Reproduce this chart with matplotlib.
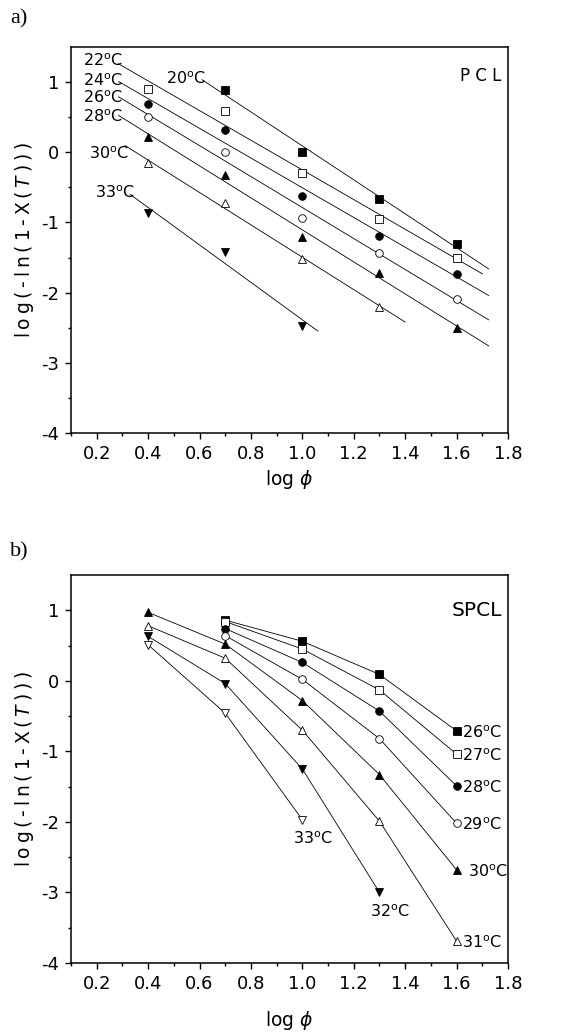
import matplotlib
matplotlib.use("Agg")
import matplotlib.pyplot as plt
import numpy as np

plt.rcParams["font.family"] = ["DejaVu Sans"]
plt.rcParams["mathtext.fontset"] = "dejavusans"

# ---------------------------------------------------------------
# Data (log phi vs log(-ln(1-X(T))))
# ---------------------------------------------------------------
log_phi = [0.4, 0.7, 1.0, 1.3, 1.6]

# a) PCL
pcl_temps = ["20", "22", "24", "26", "28", "30", "33"]
pcl_20 = [None, 0.88, 0.01, -0.67, -1.31]
pcl_22 = [0.90, 0.59, -0.30, -0.95, -1.50]
pcl_24 = [0.69, 0.32, -0.62, -1.19, -1.73]
pcl_26 = [0.50, 0.01, -0.93, -1.43, -2.09]
pcl_28 = [0.22, -0.32, -1.21, -1.72, -2.50]
pcl_30 = [-0.16, -0.72, -1.52, -2.20, None]
pcl_33 = [-0.87, -1.42, -2.47, None, None]

# b) SPCL
spcl_temps = ["26", "27", "28", "29", "30", "31", "32", "33"]
spcl_26 = [None, 0.86, 0.56, 0.09, -0.71]
spcl_27 = [None, 0.84, 0.45, -0.13, -1.04]
spcl_28 = [None, 0.74, 0.26, -0.43, -1.49]
spcl_29 = [None, 0.64, 0.02, -0.82, -2.02]
spcl_30 = [0.97, 0.52, -0.28, -1.33, -2.68]
spcl_31 = [0.78, 0.32, -0.70, -1.99, -3.69]
spcl_32 = [0.63, -0.04, -1.25, -3.00, None]
spcl_33 = [0.51, -0.46, -1.97, None, None]

# marker styles: (marker, filled)
styles = {"20": ("s", True), "22": ("s", False), "24": ("o", True),
          "26": ("o", False), "28": ("^", True), "30": ("^", False),
          "33": ("v", True)}
styles_b = {"26": ("s", True), "27": ("s", False), "28": ("o", True),
            "29": ("o", False), "30": ("^", True), "31": ("^", False),
            "32": ("v", True), "33": ("v", False)}

# fit line extents in panel a (from label to end)
fit_range = {"20": (0.61, 1.725), "22": (0.285, 1.70), "24": (0.285, 1.725),
             "26": (0.285, 1.725), "28": (0.285, 1.725), "30": (0.31, 1.40),
             "33": (0.33, 1.06)}
label_pos_a = {"20": (0.47, 1.05), "22": (0.145, 1.30), "24": (0.145, 1.02),
               "26": (0.145, 0.77), "28": (0.145, 0.51), "30": (0.17, -0.02),
               "33": (0.195, -0.58)}

TS = "\u2009"  # thin space, the original labels are letter spaced


def xy(vals):
    x = [p for p, v in zip(log_phi, vals) if v is not None]
    y = [v for v in vals if v is not None]
    return np.array(x), np.array(y)


def style_axes(ax, xpad=5):
    ax.set_xlim(0.1, 1.8)
    ax.set_ylim(-4, 1.5)
    ax.set_xticks([0.2, 0.4, 0.6, 0.8, 1.0, 1.2, 1.4, 1.6, 1.8])
    ax.set_xticklabels(["0.2", "0.4", "0.6", "0.8", "1.0", "1.2", "1.4", "1.6", "1.8"])
    ax.set_xticks(np.arange(0.1, 1.81, 0.2), minor=True)
    ax.set_yticks([-4, -3, -2, -1, 0, 1])
    ax.set_yticklabels(["-4", "-3", "-2", "-1", "0", "1"])
    ax.set_yticks([-3.5, -2.5, -1.5, -0.5, 0.5], minor=True)
    ax.tick_params(which="major", direction="out", length=4.5, width=1, labelsize=13, pad=4)
    ax.tick_params(which="minor", direction="out", length=2.5, width=1)
    for s in ax.spines.values():
        s.set_linewidth(1.1)
    ylab = TS.join("log(-ln(1-X(") + TS + "$T$" + TS + TS.join(")))")
    ax.set_ylabel(ylab, fontsize=13.5, labelpad=4)
    ax.set_xlabel(r"log $\phi$", fontsize=13.5, labelpad=xpad)


fig = plt.figure(figsize=(5.74, 10.36), dpi=100)
ax1 = fig.add_axes([0.1237, 0.582, 0.7613, 0.3727])
ax2 = fig.add_axes([0.1237, 0.0705, 0.7613, 0.3745])

# ---------------------------------------------------------------
# a) PCL - linear fits
# ---------------------------------------------------------------
pcl_series = [pcl_20, pcl_22, pcl_24, pcl_26, pcl_28, pcl_30, pcl_33]
for t, vals in zip(pcl_temps, pcl_series):
    x, y = xy(vals)
    k, b = np.polyfit(x, y, 1)
    x0, x1 = fit_range[t]
    xl = np.array([x0, x1])
    ax1.plot(xl, k * xl + b, color="black", lw=0.6, zorder=2)
    m, filled = styles[t]
    ax1.plot(x, y, ls="none", marker=m, ms=5.5,
             mfc="black" if filled else "white", mec="black", mew=0.6, zorder=3)
    lx, ly = label_pos_a[t]
    ax1.text(lx, ly, t + "$^{\\rm o}$C", fontsize=11.5, ha="left", va="center")

ax1.text(1.775, 1.08, "P C L", fontsize=12, ha="right", va="center")
style_axes(ax1, xpad=4)

# ---------------------------------------------------------------
# b) SPCL - point to point
# ---------------------------------------------------------------
spcl_series = [spcl_26, spcl_27, spcl_28, spcl_29, spcl_30, spcl_31, spcl_32, spcl_33]
for t, vals in zip(spcl_temps, spcl_series):
    x, y = xy(vals)
    m, filled = styles_b[t]
    ax2.plot(x, y, color="black", lw=0.6, zorder=2)
    ax2.plot(x, y, ls="none", marker=m, ms=5.5,
             mfc="black" if filled else "white", mec="black", mew=0.6, zorder=3)
    lab = t + "$^{\\rm o}$C"
    if t in ("32", "33"):
        ax2.text(x[-1] + 0.04, y[-1] - 0.27, lab, fontsize=11.5, ha="center", va="center")
    else:
        dx = 0.045 if t == "30" else 0.02
        ax2.text(x[-1] + dx, y[-1] - 0.02, lab, fontsize=11.5, ha="left", va="center")

ax2.text(1.775, 1.0, "SPCL", fontsize=14.5, ha="right", va="center")
style_axes(ax2, xpad=12)

fig.text(0.018, 0.982, "a)", fontsize=16, family="Liberation Serif", va="center")
fig.text(0.018, 0.467, "b)", fontsize=16, family="Liberation Serif", va="center")

fig.savefig("out.png", dpi=100, facecolor="white")
